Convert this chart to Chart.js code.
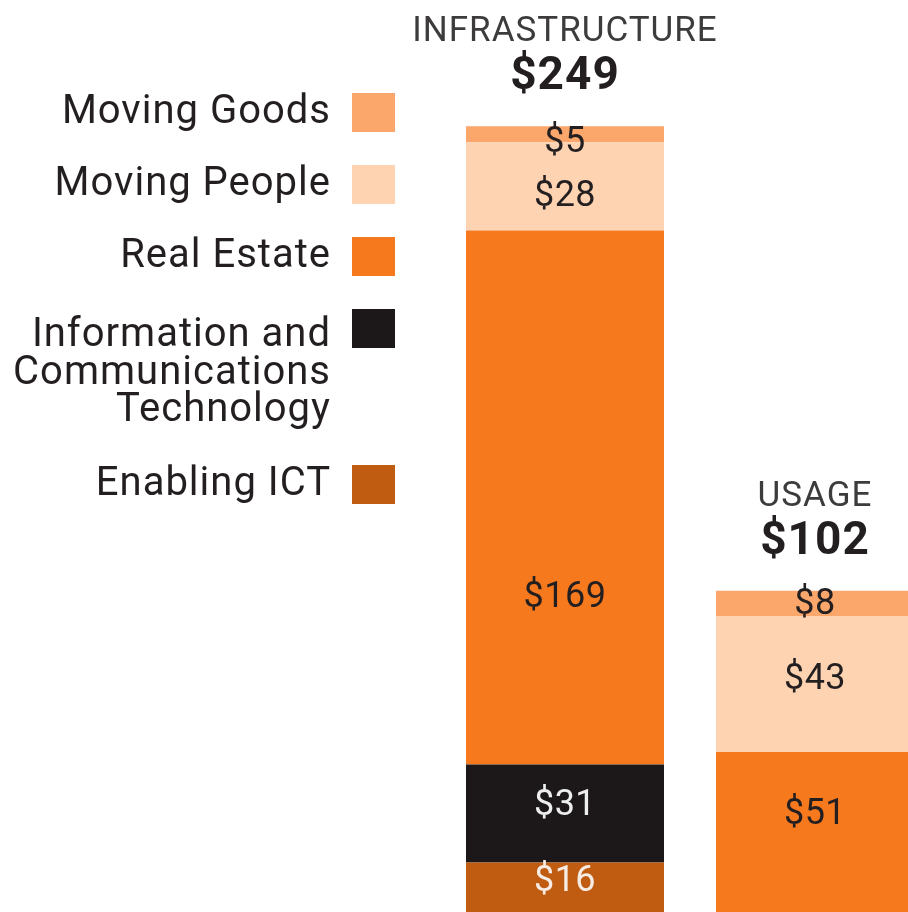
<!DOCTYPE html>
<html>
<head>
<meta charset="utf-8">
<script src="https://cdn.jsdelivr.net/npm/chart.js@4/dist/chart.umd.min.js"></script>
<style>
  html, body { margin: 0; padding: 0; background: #fff; overflow: hidden; }
  #wrap { position: absolute; left: 0; top: 0; }
</style>
</head>
<body>
<div id="wrap"><canvas id="chart" width="940" height="913"></canvas></div>
<script>
// values (billions)
const categories   = ['INFRASTRUCTURE', 'USAGE'];
const seriesNames  = ['Enabling ICT', 'Information and\nCommunications\nTechnology', 'Real Estate', 'Moving People', 'Moving Goods'];
const enablingIct  = [16, null];
const ictTech      = [31, null];
const realEstate   = [169, 51];
const movingPeople = [28, 43];
const movingGoods  = [5, 8];

const seriesValues = [enablingIct, ictTech, realEstate, movingPeople, movingGoods];
const seriesColors = ['#c05b12', '#1c1819', '#f7791e', '#fed3b1', '#fba66b'];
const labelColors  = ['#f6ece4', '#eeeeee', '#231f20', '#231f20', '#231f20'];

const FONT = 'Roboto, "DejaVu Sans", sans-serif';
const INK = '#231f20';

// vertical nudges for the in-bar labels (px, per dataset then category)
const labelNudge = [[-6, 0], [-7, 0], [100, -17], [11, -4], [9, 2]];

const barLabels = {
  id: 'barLabels',
  afterDatasetsDraw(chart) {
    const ctx = chart.ctx;
    ctx.save();
    ctx.textAlign = 'center';
    ctx.textBaseline = 'middle';
    ctx.font = '36px ' + FONT;
    ctx.letterSpacing = '0.5px';
    chart.data.datasets.forEach((ds, di) => {
      chart.getDatasetMeta(di).data.forEach((bar, i) => {
        const v = ds.data[i];
        if (v == null) return;
        const mid = (bar.y + bar.base) / 2 + labelNudge[di][i];
        ctx.fillStyle = labelColors[di];
        ctx.fillText('$' + v, bar.x, mid);
      });
    });
    // category headers with totals
    const top = chart.getDatasetMeta(chart.data.datasets.length - 1).data;
    categories.forEach((c, i) => {
      const total = seriesValues.reduce((s, arr) => s + (arr[i] || 0), 0);
      const x = top[i].x, y = top[i].y;
      ctx.textBaseline = 'alphabetic';
      ctx.fillStyle = '#3d3b3c';
      ctx.font = '35px ' + FONT;
      ctx.letterSpacing = '1px';
      ctx.fillText(c, x, y - 85);
      ctx.fillStyle = INK;
      ctx.font = 'bold 46px ' + FONT;
      ctx.letterSpacing = '1px';
      ctx.fillText('$' + total, x, y - 37);
    });
    ctx.restore();
  }
};

const sideLegend = {
  id: 'sideLegend',
  afterDraw(chart) {
    const ctx = chart.ctx;
    ctx.save();
    ctx.font = '40px ' + FONT;
    ctx.letterSpacing = '1px';
    ctx.textAlign = 'right';
    ctx.textBaseline = 'alphabetic';
    let top = 93;
    const items = chart.data.datasets.slice().reverse();
    items.forEach(ds => {
      ctx.fillStyle = ds.backgroundColor;
      ctx.fillRect(352, top, 43, 39);
      const lines = ds.label.split('\n');
      const first = top + 30 + (lines.length - 1) * 3.5;
      ctx.fillStyle = INK;
      lines.forEach((ln, k) => ctx.fillText(ln, 331, first + k * 37.5));
      top += 72 + (lines.length - 1) * 42;
    });
    ctx.restore();
  }
};

new Chart(document.getElementById('chart'), {
  type: 'bar',
  data: {
    labels: categories,
    datasets: seriesNames.map((name, k) => ({
      label: name,
      data: seriesValues[k],
      backgroundColor: seriesColors[k],
      borderWidth: 0,
      barPercentage: 0.792,
      categoryPercentage: 1
    }))
  },
  options: {
    responsive: false,
    animation: false,
    layout: { padding: { left: 440, right: 0, top: 0, bottom: 0 } },
    plugins: { legend: { display: false }, tooltip: { enabled: false } },
    scales: {
      x: { stacked: true, display: false },
      y: { stacked: true, display: false, min: 0, max: 289 }
    }
  },
  plugins: [barLabels, sideLegend]
});
</script>
</body>
</html>
